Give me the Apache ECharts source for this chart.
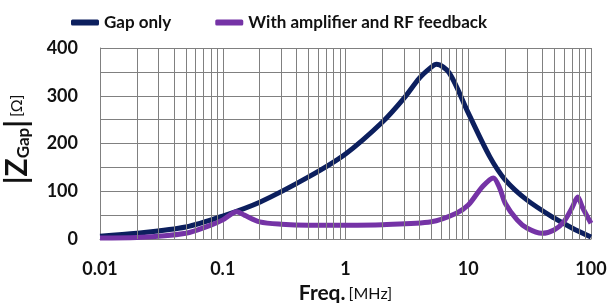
<!DOCTYPE html>
<html>
<head>
<meta charset="utf-8">
<script src="https://cdn.jsdelivr.net/npm/echarts@6/dist/echarts.min.js"></script>
<style>
  html, body { margin: 0; padding: 0; background: #fff; }
  #chart { width: 610px; height: 303px; }
</style>
</head>
<body>
<div id="chart"></div>
<script>
// frequency in MHz, impedance in ohm
const gapFreq = [0.01, 0.02, 0.05, 0.1, 0.2, 0.5, 1, 2, 3, 4, 5, 5.5, 7, 10, 15, 20, 30, 50, 70, 100];
const gapZ = [6, 12, 25, 48, 77, 130, 178, 245, 295, 337, 360, 366, 348, 264, 172, 124, 82, 44, 23, 4];

const fbFreq = [0.01, 0.02, 0.05, 0.08, 0.1, 0.13, 0.15, 0.2, 0.3, 0.5, 1, 2, 5, 8, 10, 13, 16, 18, 20, 25, 30, 40, 50, 60, 70, 78, 85, 100];
const fbZ = [2, 3, 12, 29, 40, 57, 50, 36, 31, 29, 29, 30, 36, 54, 71, 109, 128, 107, 75, 40, 23, 12, 19, 36, 65, 88, 67, 33];

const xTicks = ["0.01", "0.1", "1", "10", "100"];
const minorLines = [];
for (const d of [0.01, 0.1, 1, 10]) {
  for (let k = 2; k <= 9; k++) minorLines.push(+(k * d).toPrecision(3));
}

const pair = (xs, ys) => xs.map((x, i) => [x, ys[i]]);
const gridColor = "#808080";

const chart = echarts.init(document.getElementById("chart"));
chart.setOption({
  animation: false,
  textStyle: { fontFamily: "Lato" },
  legend: {
    top: 9,
    left: 66,
    icon: "roundRect",
    itemWidth: 28,
    itemHeight: 6,
    itemGap: 44,
    textStyle: { fontSize: 17, fontWeight: "bold", color: "#111", fontFamily: "Lato" },
    data: ["Gap only", "With amplifier and RF feedback"],
  },
  grid: { left: 100, right: 19, top: 48, bottom: 64, outerBoundsMode: "none" },
  xAxis: {
    type: "log",
    logBase: 10,
    min: 0.01,
    max: 100,
    axisLine: { show: true, lineStyle: { color: gridColor } },
    axisTick: { show: false },
    splitLine: { show: true, lineStyle: { color: gridColor, width: 1 } },
    axisLabel: {
      fontSize: 18,
      fontWeight: "bold",
      color: "#111",
      margin: 21,
      formatter: (v) => xTicks.find((t) => Math.abs(parseFloat(t) - v) < v * 1e-6) || "",
    },
    name: "{b|Freq.} {n|[MHz]}",
    nameLocation: "middle",
    nameGap: 40,
    nameTextStyle: {
      rich: {
        b: { fontSize: 21, fontWeight: "bold", color: "#111", fontFamily: "Lato" },
        n: { fontSize: 16, color: "#111", fontFamily: "Lato" },
      },
    },
  },
  yAxis: {
    type: "value",
    min: 0,
    max: 400,
    interval: 50,
    axisLine: { show: true, lineStyle: { color: gridColor } },
    axisTick: { show: false },
    splitLine: { show: true, lineStyle: { color: gridColor, width: 1 } },
    axisLabel: {
      fontSize: 18,
      fontWeight: "bold",
      color: "#111",
      margin: 22,
      formatter: (v) => (v % 100 === 0 ? String(v) : ""),
    },
    name: "{z||Z}{s|Gap}{z||}{u|[Ω]}",
    nameLocation: "middle",
    nameGap: 68,
    nameRotate: 90,
    nameTextStyle: {
      padding: [0, 0, 0, 8],
      rich: {
        z: { fontSize: 30, fontWeight: "bold", color: "#111", fontFamily: "Lato" },
        s: { fontSize: 17, fontWeight: "bold", color: "#111", fontFamily: "Lato", verticalAlign: "bottom", padding: [12, 0, 0, 0] },
        u: { fontSize: 16, color: "#111", fontFamily: "Lato", padding: [0, 0, 0, 3] },
      },
    },
  },
  series: [
    {
      name: "Gap only",
      type: "line",
      data: pair(gapFreq, gapZ),
      smooth: 0.3,
      showSymbol: false,
      lineStyle: { width: 5, color: "#0c1f5e" },
      itemStyle: { color: "#0c1f5e" },
      z: 3,
      markLine: {
        silent: true,
        symbol: "none",
        label: { show: false },
        lineStyle: { color: gridColor, width: 1, type: "solid" },
        data: minorLines.map((f) => ({ xAxis: f })),
      },
    },
    {
      name: "With amplifier and RF feedback",
      type: "line",
      data: pair(fbFreq, fbZ),
      smooth: 0.3,
      showSymbol: false,
      lineStyle: { width: 5, color: "#7533a6" },
      itemStyle: { color: "#7533a6" },
      z: 4,
    },
  ],
});
</script>
</body>
</html>
